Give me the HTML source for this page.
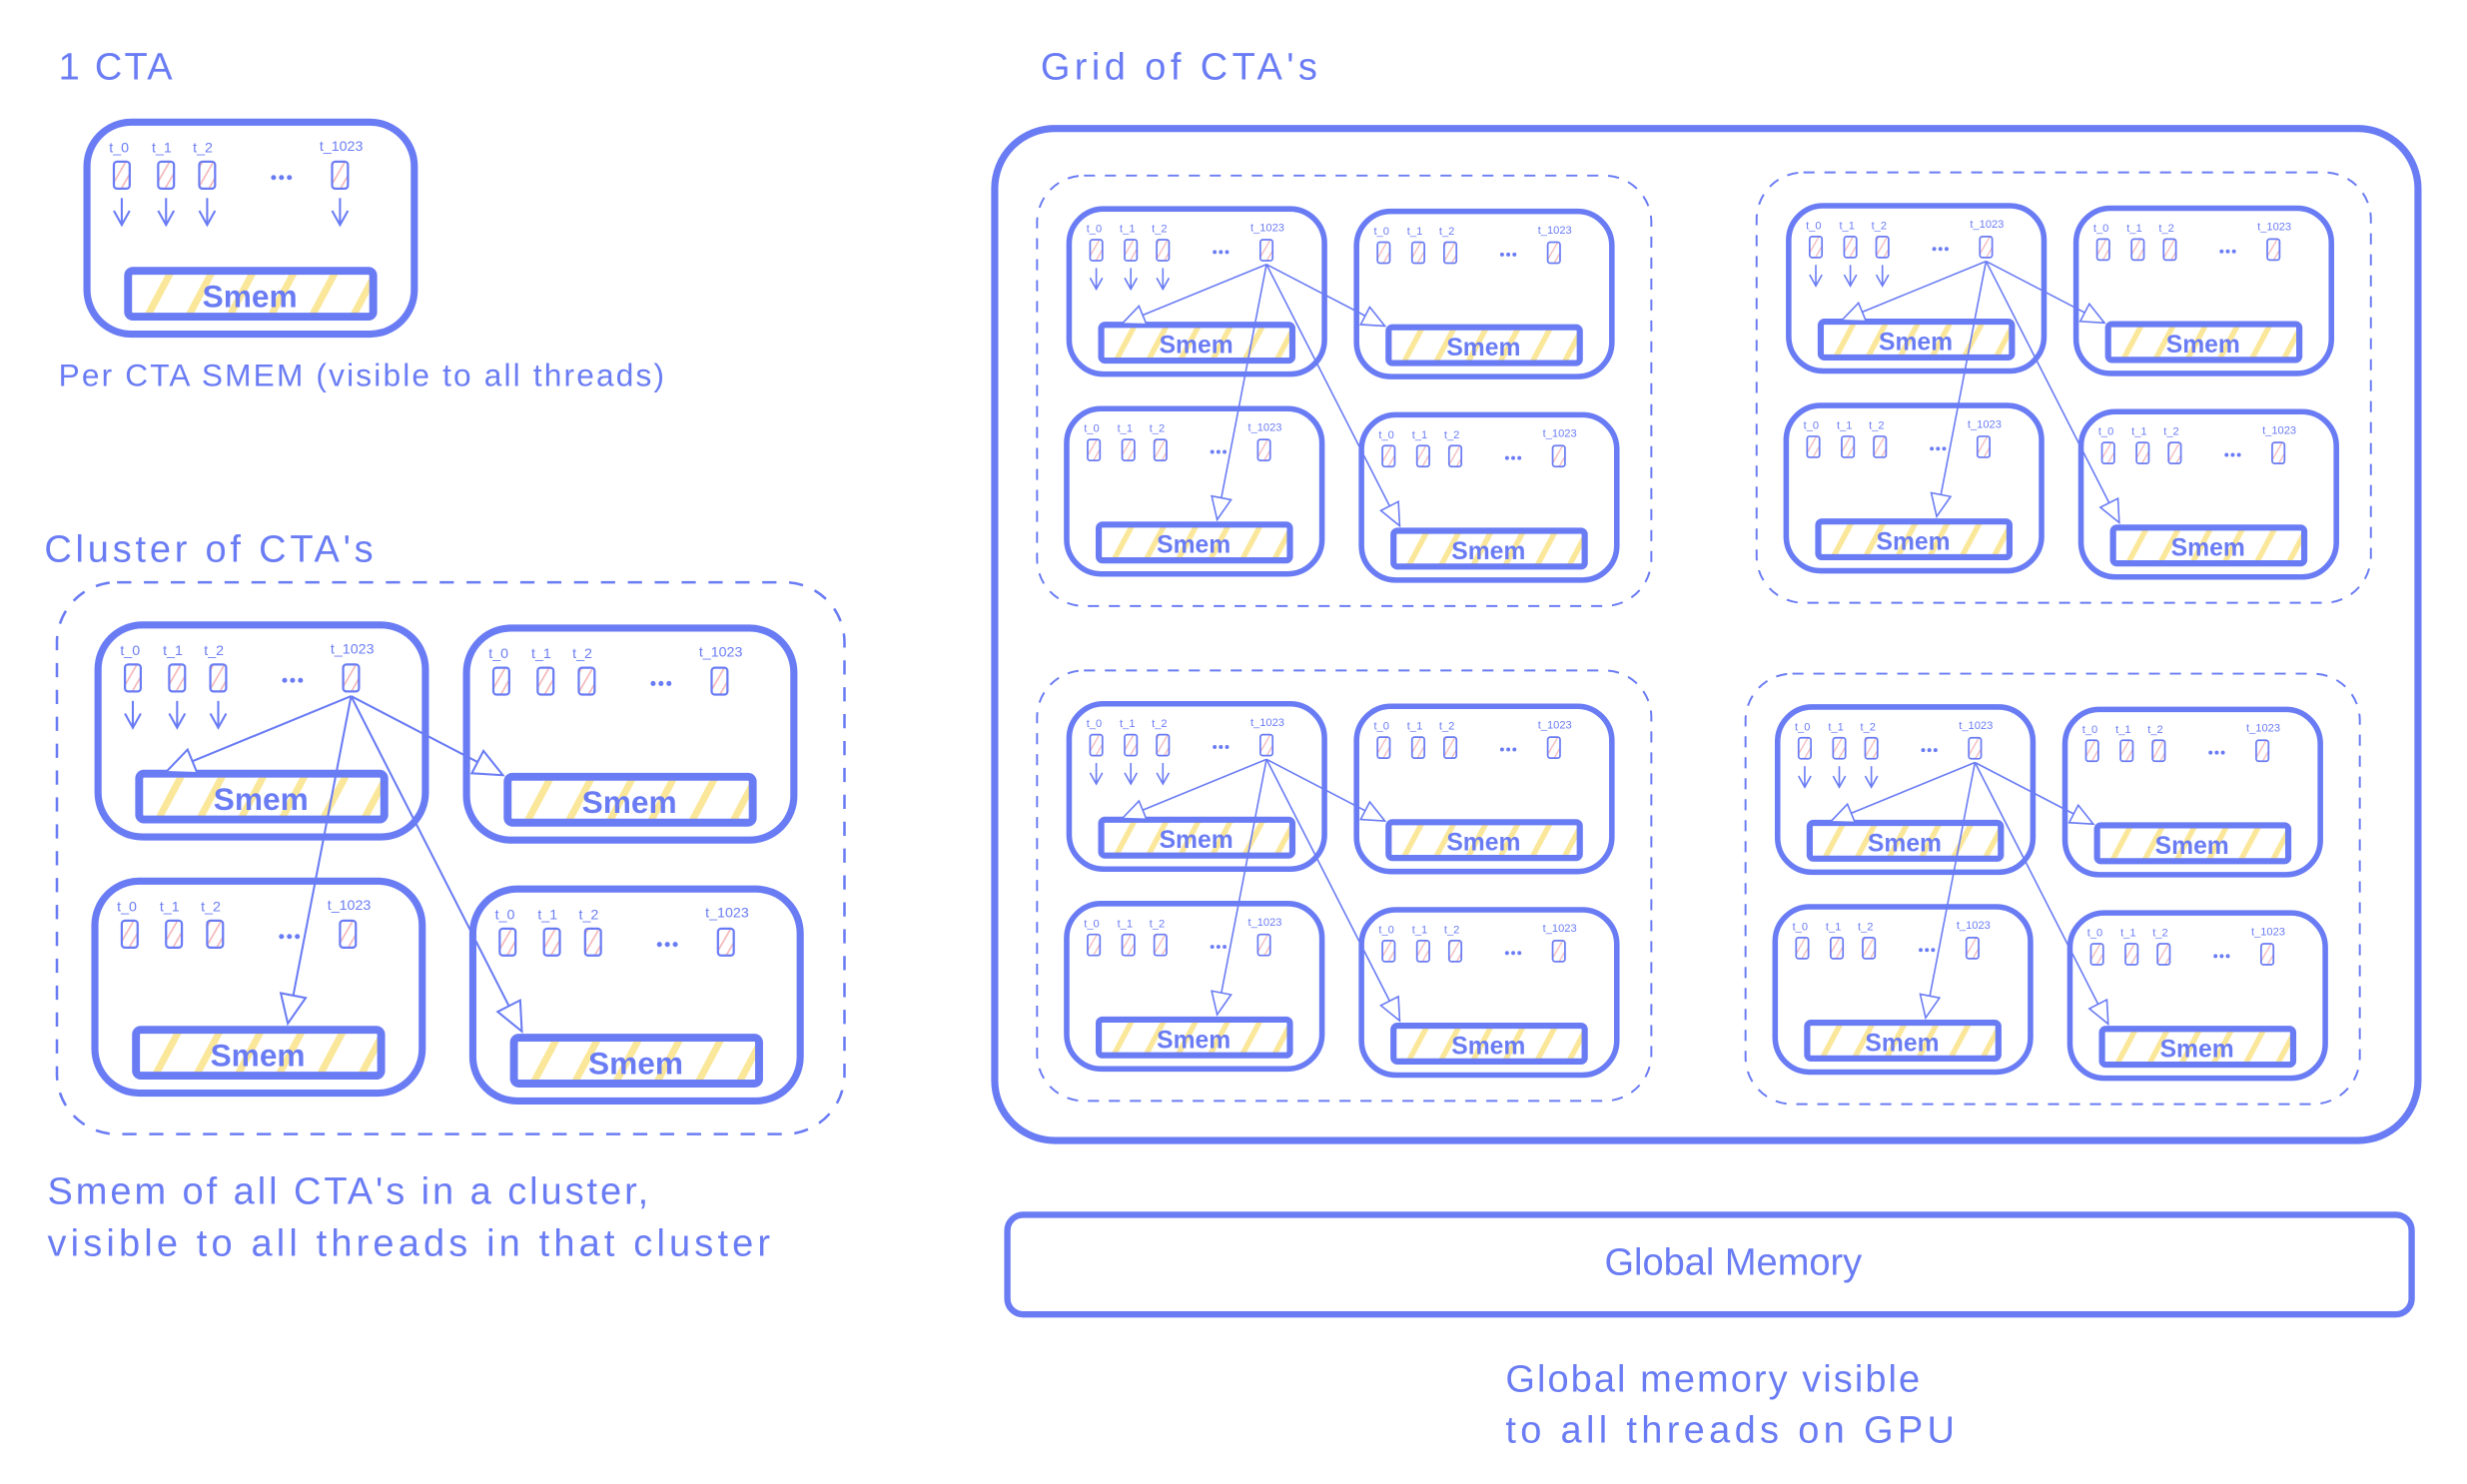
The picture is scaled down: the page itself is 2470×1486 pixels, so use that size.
<!DOCTYPE html>
<html><head><meta charset="utf-8"><style>
html,body{margin:0;padding:0;background:#fff;}
svg{display:block;}
text{font-family:"Liberation Sans",sans-serif;fill:#6a7cf4;}
</style></head><body>
<svg width="2470" height="1486" viewBox="0 0 1560 938" xmlns="http://www.w3.org/2000/svg">
<defs>
<pattern id="yh" patternUnits="userSpaceOnUse" width="26" height="30" patternTransform="skewX(-28)">
<rect x="0" y="0" width="5" height="30" fill="#fbe79a"/>
</pattern>
<pattern id="ph" patternUnits="userSpaceOnUse" width="6" height="6" patternTransform="rotate(30)">
<rect x="0" y="0" width="1" height="6" fill="#f4b4b4"/>
</pattern>
<marker id="ot" markerUnits="userSpaceOnUse" markerWidth="24" markerHeight="20" refX="19" refY="9" orient="auto">
<path d="M1,1 L19,9 L1,17 Z" fill="#fff" stroke="#6a7cf4" stroke-width="1.3"/>
</marker>
<marker id="da" markerUnits="userSpaceOnUse" markerWidth="12" markerHeight="12" refX="10" refY="6" orient="auto">
<path d="M1,1 L10,6 L1,11" fill="none" stroke="#6a7cf4" stroke-width="1.3"/>
</marker>
<g id="cta">
<rect x="2" y="2" width="207" height="134" rx="28" fill="#fff" stroke="#6a7cf4" stroke-width="4.5"/>
<g font-size="9">
<text x="16" y="21">t_0</text><text x="43" y="21">t_1</text><text x="69" y="21">t_2</text><text x="149" y="20">t_1023</text>
</g>
<g fill="url(#ph)" stroke="#6a7cf4" stroke-width="1.4">
<rect x="19" y="27" width="10" height="17" rx="2"/><rect x="47" y="27" width="10" height="17" rx="2"/>
<rect x="73" y="27" width="10" height="17" rx="2"/><rect x="157" y="27" width="10" height="17" rx="2"/>
</g>
<g fill="#6a7cf4"><circle cx="120" cy="37" r="1.6"/><circle cx="125" cy="37" r="1.6"/><circle cx="130" cy="37" r="1.6"/></g>
<rect x="28" y="96" width="155" height="29" rx="3" fill="url(#yh)" stroke="#6a7cf4" stroke-width="5"/>
<text x="105" y="119" font-size="20" text-anchor="middle" font-weight="bold">Smem</text>
</g>
<g id="darr" stroke="#6a7cf4" stroke-width="1.3" marker-end="url(#da)">
<line x1="24" y1="50" x2="24" y2="67"/><line x1="52" y1="50" x2="52" y2="67"/><line x1="78" y1="50" x2="78" y2="67"/>
</g>
<g id="cluster">
<rect x="1" y="1" width="498" height="349" rx="38" fill="none" stroke="#6a7cf4" stroke-width="1.6" stroke-dasharray="9 8"/>
<use href="#cta" transform="translate(25,26)"/>
<use href="#darr" transform="translate(25,26)"/>
<use href="#cta" transform="translate(258,28)"/>
<use href="#cta" transform="translate(23,188)"/>
<use href="#cta" transform="translate(262,193)"/>
<g stroke="#6a7cf4" stroke-width="1.3" fill="none" marker-end="url(#ot)">
<line x1="187" y1="73" x2="70" y2="121"/>
<line x1="187" y1="73" x2="283" y2="123"/>
<line x1="187" y1="73" x2="147" y2="280"/>
<line x1="187" y1="73" x2="295" y2="285"/>
</g>
</g>
</defs>

<text x="37" y="50" font-size="24" textLength="72">1 CTA</text>
<use href="#cta" transform="translate(53,75)"/>
<g stroke="#6a7cf4" stroke-width="1.3" marker-end="url(#da)" transform="translate(53,75)">
<line x1="24" y1="50" x2="24" y2="67"/><line x1="52" y1="50" x2="52" y2="67"/><line x1="78" y1="50" x2="78" y2="67"/><line x1="162" y1="50" x2="162" y2="67"/>
</g>
<text x="37" y="244" font-size="20" textLength="383">Per CTA SMEM (visible to all threads)</text>

<text x="28" y="355" font-size="24" textLength="208">Cluster of CTA's</text>
<use href="#cluster" transform="translate(35,367)"/>
<text x="30" y="761" font-size="24" textLength="380">Smem of all CTA's in a cluster,</text>
<text x="30" y="794" font-size="24" textLength="457">visible to all threads in that cluster</text>

<text x="658" y="50" font-size="24" textLength="175">Grid of CTA's</text>
<rect x="629" y="81" width="900" height="640" rx="38" fill="none" stroke="#6a7cf4" stroke-width="4.5"/>
<use href="#cluster" transform="translate(655,110) scale(0.78)"/>
<use href="#cluster" transform="translate(1110,108) scale(0.78)"/>
<use href="#cluster" transform="translate(655,423) scale(0.78)"/>
<use href="#cluster" transform="translate(1103,425) scale(0.78)"/>

<rect x="637" y="768" width="888" height="63" rx="10" fill="none" stroke="#6a7cf4" stroke-width="4"/>
<text x="1096" y="806" font-size="24" text-anchor="middle">Global Memory</text>
<text x="952" y="880" font-size="24" textLength="262">Global memory visible</text>
<text x="952" y="912" font-size="24" textLength="284">to all threads on GPU</text>
</svg>
</body></html>
